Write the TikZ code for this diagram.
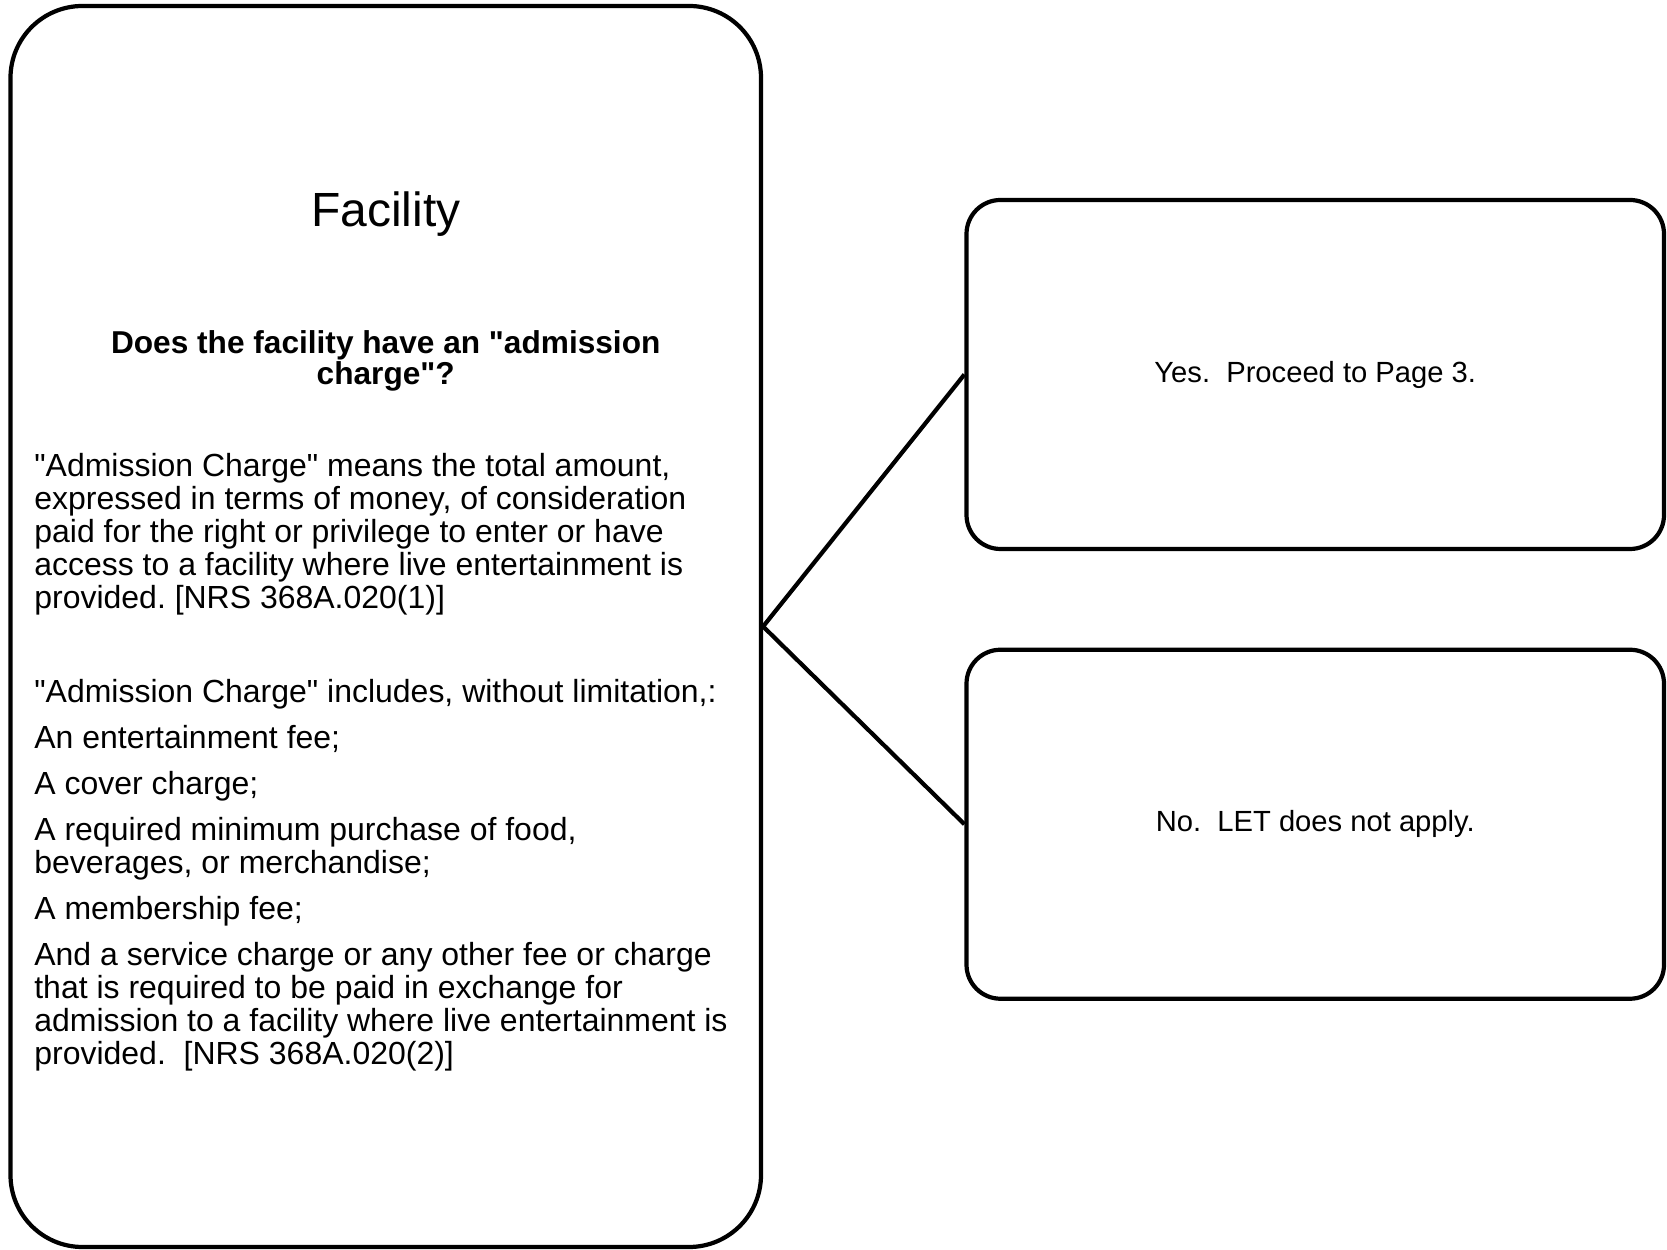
\documentclass[tikz,border=0pt]{standalone}
\usepackage{fontspec}
\setmainfont{Liberation Sans}[Ligatures=TeXOff]
\usepackage{tikz}
\frenchspacing

\begin{document}
\begin{tikzpicture}[
  panel/.style={draw, line width=2.4pt, rounded corners=1.44cm, minimum width=15.01cm, minimum height=24.82cm, inner sep=0pt},
  choice/.style={draw, line width=2.4pt, rounded corners=0.68cm, minimum width=13.95cm, minimum height=6.98cm, font=\fontsize{16.6}{19}\selectfont},
  bodytext/.style={inner sep=0pt, font=\fontsize{18.2}{18.8}\selectfont}
]
\useasboundingbox (0,0) rectangle (33.34,25);
%
\node[panel] (facility) at (7.715,12.47) {};
\node[choice] (yes) at (26.305,17.51) {Yes.\ \ Proceed to Page 3.};
\node[choice] (no) at (26.305,8.515) {No.\ \ LET does not apply.};
%
\node[anchor=base, inner sep=0pt, font=\fontsize{27.3}{30}\selectfont] (title) at (7.715,20.47) {Facility};
\node[bodytext, anchor=base, align=center, font=\fontsize{18}{17.8}\selectfont\bfseries] (question) at (7.715,17.31)
  {Does the facility have an "admission\\charge"?};
\node[bodytext, anchor=base west, align=left] (defn) at (0.68,3.70)
  {"Admission Charge" means the total amount,\\
   expressed in terms of money, of consideration\\
   paid for the right or privilege to enter or have\\
   access to a facility where live entertainment is\\
   provided. [NRS 368A.020(1)]\\[34.5pt]
   "Admission Charge" includes, without limitation,:\\[7.4pt]
   An entertainment fee;\\[7.4pt]
   A cover charge;\\[7.4pt]
   A required minimum purchase of food,\\
   beverages, or merchandise;\\[7.4pt]
   A membership fee;\\[7.4pt]
   And a service charge or any other fee or charge\\
   that is required to be paid in exchange for\\
   admission to a facility where live entertainment is\\
   provided.\ \ [NRS 368A.020(2)]};
%
\draw[line width=2.4pt] (facility.east) -- (yes.west);
\draw[line width=2.4pt] (facility.east) -- (no.west);
\end{tikzpicture}
\end{document}
